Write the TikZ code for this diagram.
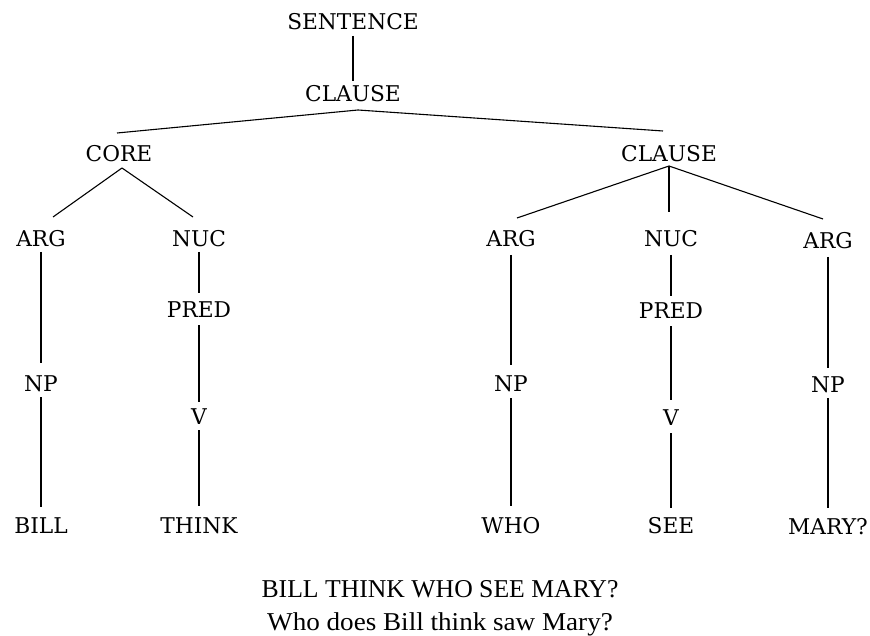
\documentclass[tikz,border=0pt]{standalone}
\usepackage{fontspec}
\usepackage{graphicx}
\newfontfamily\treefont{DejaVu Serif}
\newfontfamily\glossfont{Liberation Serif}
\begin{document}
\begin{tikzpicture}[x=1pt,y=-1pt,
  lab/.style={font=\treefont\fontsize{21.7}{26}\selectfont, inner sep=0pt, outer sep=0pt,
              text height=16pt, text depth=0pt, anchor=base},
  gloss/.style={font=\glossfont\fontsize{25.7}{30}\selectfont, inner sep=0pt, anchor=base},
  branch/.style={line width=1.1pt, black}]
\useasboundingbox (0,0) rectangle (870,636);

% tree labels (placed on their baselines)
\node[lab] (s)     at (353,30)  {SENTENCE};
\node[lab] (cl)    at (353,102) {CLAUSE};
\node[lab] (core)  at (119,162) {CORE};
\node[lab] (cl2)   at (669,162) {CLAUSE};
\node[lab] (arg1)  at (41,247)  {ARG};
\node[lab] (nuc1)  at (199,247) {NUC};
\node[lab] (arg2)  at (511,247) {ARG};
\node[lab] (nuc2)  at (671,247) {NUC};
\node[lab] (arg3)  at (828,249) {ARG};
\node[lab] (pred1) at (199,318) {PRED};
\node[lab] (pred2) at (671,319) {PRED};
\node[lab] (np1)   at (41,391)  {NP};
\node[lab] (np2)   at (511,391) {NP};
\node[lab] (np3)   at (828,392) {NP};
\node[lab] (v1)    at (199,424) {V};
\node[lab] (v2)    at (671,425) {V};
\node[lab] (bill)  at (41,533)  {BILL};
\node[lab] (think) at (199,533) {THINK};
\node[lab] (who)   at (511,533) {WHO};
\node[lab] (see)   at (671,533) {SEE};
\node[lab] (mary)  at (828,534) {MARY?};

% branches of the upper part
\draw[branch] ([yshift=-6pt]s.south) -- ([yshift=5pt]cl.north);
\draw[branch] ([xshift=5pt,yshift=-8pt]cl.south) -- ([xshift=-2pt,yshift=13pt]core.north);
\draw[branch] ([xshift=5pt,yshift=-8pt]cl.south) -- ([xshift=-6pt,yshift=15pt]cl2.north);
\draw[branch] ([xshift=3pt,yshift=-6pt]core.south) -- ([xshift=12pt,yshift=14pt]arg1.north);
\draw[branch] ([xshift=3pt,yshift=-6pt]core.south) -- ([xshift=-6pt,yshift=14pt]nuc1.north);
\draw[branch] ([yshift=-4pt]cl2.south) -- ([xshift=6pt,yshift=13pt]arg2.north);
\draw[branch] ([yshift=-4pt]cl2.south) -- ([xshift=-2pt,yshift=19pt]nuc2.north);
\draw[branch] ([yshift=-4pt]cl2.south) -- ([xshift=-5pt,yshift=14pt]arg3.north);

% vertical chains
\draw[branch] ([yshift=-5pt]arg1.south)  -- ([yshift=12pt]np1.north);
\draw[branch] ([yshift=-6pt]np1.south)   -- ([yshift=10pt]bill.north);
\draw[branch] ([yshift=-5pt]nuc1.south)  -- ([yshift=9pt]pred1.north);
\draw[branch] ([yshift=-7pt]pred1.south) -- ([yshift=6pt]v1.north);
\draw[branch] ([yshift=-6pt]v1.south)    -- ([yshift=11pt]think.north);
\draw[branch] ([yshift=-8pt]arg2.south)  -- ([yshift=10pt]np2.north);
\draw[branch] ([yshift=-7pt]np2.south)   -- ([yshift=11pt]who.north);
\draw[branch] ([yshift=-8pt]nuc2.south)  -- ([yshift=7pt]pred2.north);
\draw[branch] ([yshift=-7pt]pred2.south) -- ([yshift=9pt]v2.north);
\draw[branch] ([yshift=-8pt]v2.south)    -- ([yshift=9pt]see.north);
\draw[branch] ([yshift=-8pt]arg3.south)  -- ([yshift=8pt]np3.north);
\draw[branch] ([yshift=-6pt]np3.south)   -- ([yshift=10pt]mary.north);

% gloss and translation
\node[gloss] (g1) at (440,597) {BILL THINK WHO SEE MARY?};
\node[gloss] (g2) at (440,630) {\scalebox{1.055}[1]{Who does Bill think saw Mary?}};
\end{tikzpicture}
\end{document}
